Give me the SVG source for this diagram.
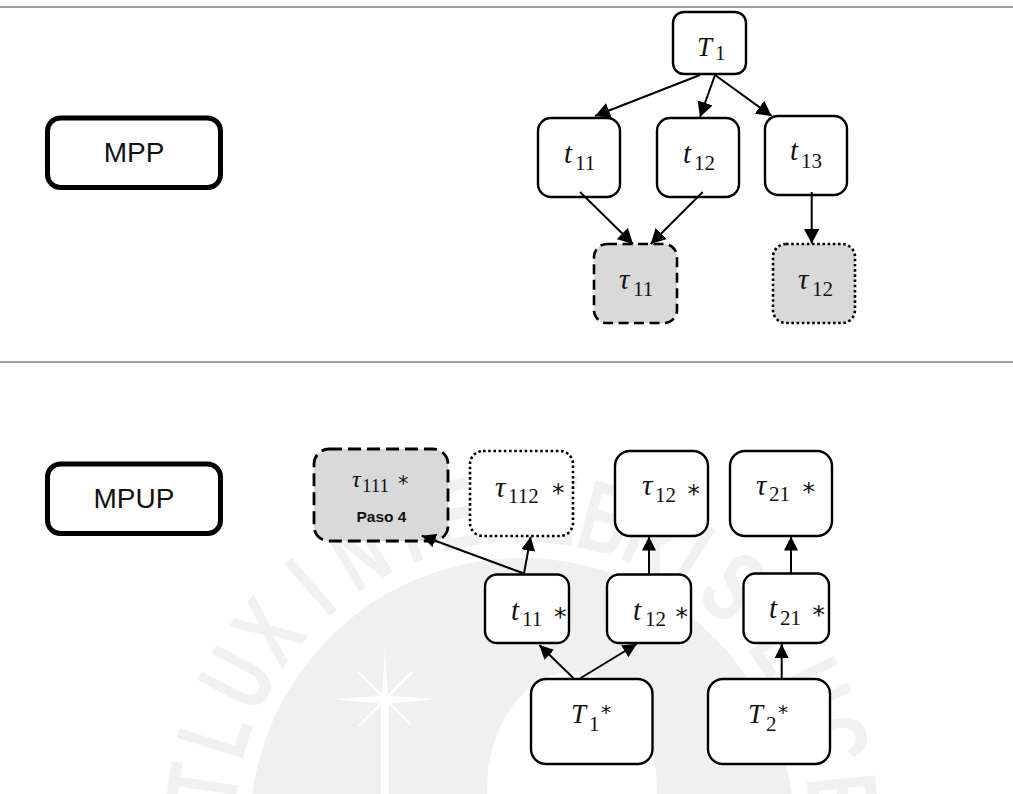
<svg xmlns="http://www.w3.org/2000/svg" width="1013" height="794" viewBox="0 0 1013 794">
<style>
.n{fill:#fff;stroke:#000;stroke-width:2.4}
.g{fill:#d9d9d9}
.da{stroke-width:2.6;stroke-dasharray:10 5.5}
.da2{stroke-width:2.8;stroke-dasharray:13 6}
.do{stroke-width:2.6;stroke-dasharray:2.6 2.6}
.th{fill:#fff;stroke:#000;stroke-width:5}
.rule{stroke:#7f7f7f;stroke-width:1.6}
.c{stroke:#000;stroke-width:2;fill:none}
.big{marker-end:url(#ah)}
.sm{marker-end:url(#as)}
text{fill:#111}
.m{font-family:"Liberation Serif",serif;font-style:italic;font-size:29px}
.cap{font-size:27px}
.d{font-family:"Liberation Serif",serif;font-size:21px}
.a{font-family:"DejaVu Sans",sans-serif;font-size:25px}
.l{font-family:"Liberation Sans",Arial,sans-serif;font-size:28px;text-anchor:middle}
#watermark text{font-family:"Liberation Sans",Arial,sans-serif;font-weight:700;font-size:100px;fill:#f1f1f1;text-anchor:middle}
</style>
<defs>
<marker id="ah" markerUnits="userSpaceOnUse" markerWidth="16" markerHeight="16" refX="15" refY="8" orient="auto"><path d="M0,0L15,8L0,16z" fill="#000"/></marker>
<marker id="as" markerUnits="userSpaceOnUse" markerWidth="15" markerHeight="15" refX="14" refY="7.5" orient="auto"><path d="M0,0.5L14,7.5L0,14.5z" fill="#000"/></marker>
</defs>
<g id="watermark">
<circle cx="522" cy="830" r="272" fill="#f0f0f0"/>
<ellipse cx="572" cy="790" rx="85" ry="118" fill="#fff"/>
<path d="M385,646Q387,690 389,696Q410,697 436,699Q410,702 389,703L389,794H381L381,703Q360,702 333,699Q360,697 381,696Q383,690 385,646z" fill="#fff"/>
<path d="M358,672L411,725M412,672L359,726" stroke="#fff" stroke-width="2.5"/>
<text transform="rotate(-82 522 830) translate(522 542) scale(.66 1)">T</text>
<text transform="rotate(-72.500 522 830) translate(522 542) scale(.66 1)">L</text>
<text transform="rotate(-62 522 830) translate(522 542) scale(.66 1)">U</text>
<text transform="rotate(-52 522 830) translate(522 542) scale(.66 1)">X</text>
<text transform="rotate(-41 522 830) translate(522 542) scale(.66 1)">I</text>
<text transform="rotate(-30.500 522 830) translate(522 542) scale(.66 1)">N</text>
<text transform="rotate(-21 522 830) translate(522 542) scale(.66 1)">T</text>
<text transform="rotate(-12 522 830) translate(522 542) scale(.66 1)">E</text>
<text transform="rotate(-3 522 830) translate(522 542) scale(.66 1)">N</text>
<text transform="rotate(6 522 830) translate(522 542) scale(.66 1)">E</text>
<text transform="rotate(15 522 830) translate(522 542) scale(.66 1)">B</text>
<text transform="rotate(24 522 830) translate(522 542) scale(.66 1)">R</text>
<text transform="rotate(32 522 830) translate(522 542) scale(.66 1)">I</text>
<text transform="rotate(41 522 830) translate(522 542) scale(.66 1)">S</text>
<text transform="rotate(55 522 830) translate(522 542) scale(.66 1)">L</text>
<text transform="rotate(64 522 830) translate(522 542) scale(.66 1)">U</text>
<text transform="rotate(74 522 830) translate(522 542) scale(.66 1)">C</text>
<text transform="rotate(84 522 830) translate(522 542) scale(.66 1)">E</text>
</g>
<g id="rules">
<line class="rule" x1="0" y1="7" x2="1013" y2="7"/>
<line class="rule" x1="0" y1="362" x2="1013" y2="362"/>
</g>
<g id="MPP"><rect class="th" x="47.5" y="118" width="173" height="69.5" rx="13"/><text class="l" x="134" y="161.5">MPP</text></g>
<g id="MPUP"><rect class="th" x="47.5" y="464" width="173" height="69.5" rx="13"/><text class="l" x="134" y="508">MPUP</text></g>
<g id="T1"><rect class="n" x="673" y="12" width="73" height="62" rx="11"/><text class="m cap" x="697" y="56">T</text><text class="d" x="715" y="60">1</text></g>
<g id="t11"><rect class="n" x="538" y="118" width="82" height="79" rx="13"/><text class="m" x="564" y="163">t</text><text class="d" x="575" y="170">11</text></g>
<g id="t12"><rect class="n" x="657" y="118" width="82" height="79" rx="13"/><text class="m" x="683" y="163">t</text><text class="d" x="694" y="170">12</text></g>
<g id="t13"><rect class="n" x="765" y="116" width="82" height="79" rx="13"/><text class="m" x="790" y="160">t</text><text class="d" x="801" y="168">13</text></g>
<g id="tau11"><rect class="n g da" x="594" y="244" width="83" height="79" rx="13"/><text class="m" x="619" y="289">τ</text><text class="d" x="633" y="296">11</text></g>
<g id="tau12"><rect class="n g do" x="773" y="244" width="82" height="79" rx="13"/><text class="m" x="798" y="289">τ</text><text class="d" x="812" y="296">12</text></g>
<g id="tau111s"><rect class="n g da2" x="314" y="449" width="134" height="92" rx="15"/><text class="m" style="font-size:24px" x="352" y="487">τ</text><text class="d" style="font-size:19px" x="362" y="492">111</text><text class="a" style="font-size:21px" x="398" y="491">*</text><text x="381.5" y="521.5" style="font-family:'Liberation Sans',Arial,sans-serif;font-weight:700;font-size:15.500px;text-anchor:middle">Paso 4</text></g>
<g id="tau112s"><rect class="n do" x="470" y="451" width="103" height="85" rx="13"/><text class="m" x="495" y="497">τ</text><text class="d" x="508" y="503">112</text><text class="a" x="552" y="501">*</text></g>
<g id="t11s"><rect class="n" x="485" y="574.5" width="84" height="68.5" rx="12"/><text class="m" x="511" y="620">t</text><text class="d" x="522" y="626">11</text><text class="a" x="554" y="625">*</text></g>
<g id="t12s"><rect class="n" x="607" y="574.5" width="84" height="68.5" rx="12"/><text class="m" x="633" y="620">t</text><text class="d" x="645" y="626">12</text><text class="a" x="675.500" y="625">*</text></g>
<g id="t21s"><rect class="n" x="743.5" y="573.5" width="85.5" height="69.5" rx="12"/><text class="m" x="769" y="618">t</text><text class="d" x="780" y="625">21</text><text class="a" x="812.500" y="623">*</text></g>
<g id="tau12s"><rect class="n" x="615" y="451" width="93" height="85" rx="15"/><text class="m" x="642" y="495">τ</text><text class="d" x="655" y="502">12</text><text class="a" x="687.500" y="502">*</text></g>
<g id="tau21s"><rect class="n" x="730" y="451" width="102" height="85" rx="15"/><text class="m" x="756" y="495">τ</text><text class="d" x="769" y="501">21</text><text class="a" x="802.500" y="500">*</text></g>
<g id="T1s"><rect class="n" x="531" y="679" width="121.5" height="85" rx="15"/><text class="m cap" x="571" y="723">T</text><text class="d" x="589" y="731">1</text><text class="a" style="font-size:20px" x="601" y="718.500">*</text></g>
<g id="T2s"><rect class="n" x="708" y="679" width="122" height="85" rx="15"/><text class="m cap" x="748" y="723">T</text><text class="d" x="766" y="731">2</text><text class="a" style="font-size:20px" x="778" y="718.500">*</text></g>
<g id="connectors">
<line class="c big" x1="700" y1="75" x2="595" y2="116"/>
<line class="c big" x1="715" y1="75" x2="700" y2="117"/>
<line class="c big" x1="715" y1="75" x2="771.7" y2="116"/>
<line class="c big" x1="580" y1="192" x2="633" y2="244"/>
<line class="c big" x1="702.7" y1="192" x2="650.7" y2="244"/>
<line class="c big" x1="811.7" y1="192" x2="811.7" y2="243.5"/>
<line class="c sm" x1="524" y1="573.5" x2="421.7" y2="535.7"/>
<line class="c sm" x1="524" y1="573.5" x2="530.7" y2="536.7"/>
<line class="c sm" x1="573.3" y1="678" x2="539.3" y2="645"/>
<line class="c sm" x1="580.7" y1="678" x2="636.7" y2="644"/>
<line class="c sm" x1="649" y1="574" x2="649" y2="536.5"/>
<line class="c sm" x1="791" y1="573" x2="791" y2="536.5"/>
<line class="c sm" x1="781.7" y1="678" x2="781.7" y2="644"/>
</g>
</svg>
